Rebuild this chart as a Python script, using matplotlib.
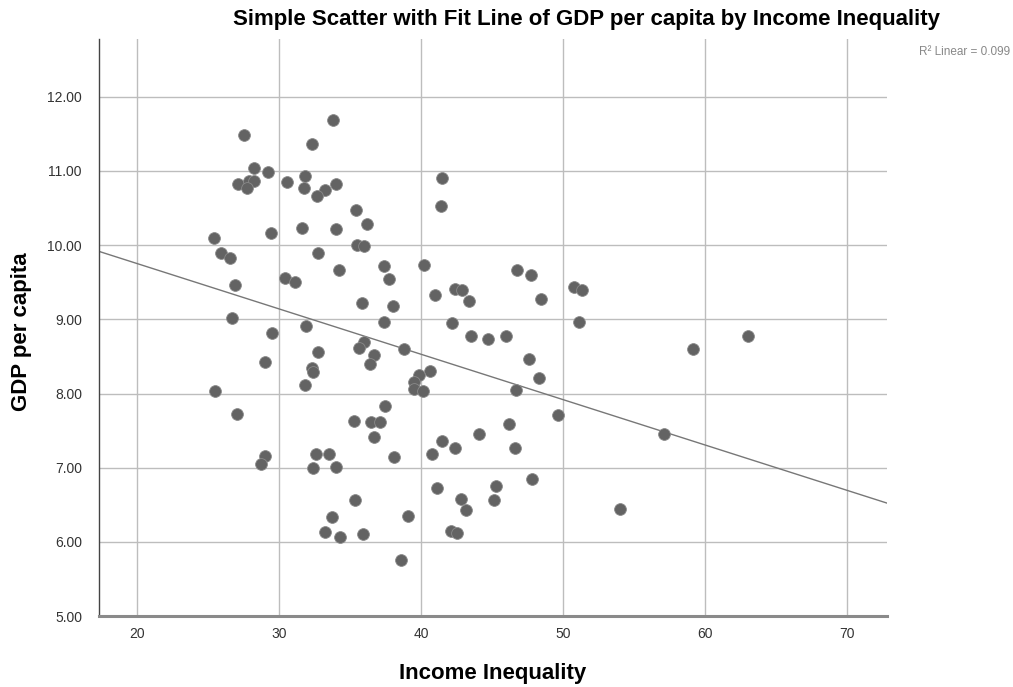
import numpy as np
import matplotlib.pyplot as plt

# Income inequality (x) and GDP per capita (y) per country
income_inequality = [
    33.80, 27.49, 32.30, 28.22, 29.20, 27.11, 27.89, 28.22, 27.70, 30.52,
    31.81, 31.72, 33.22, 32.68, 34.01, 35.40, 36.20, 31.60, 34.01, 29.39,
    25.40, 35.49, 35.96, 25.89, 26.51, 32.73, 34.23, 37.39, 37.70, 40.21,
    26.90, 30.40, 31.11, 40.96, 41.48, 41.36, 35.82, 38.01, 26.69, 37.39,
    31.88, 29.51, 35.99, 35.61, 38.80, 32.70, 36.69, 36.41, 29.01, 32.33,
    32.39, 40.61, 39.82, 39.51, 39.51, 40.14, 31.81, 25.49, 27.00, 37.42,
    35.28, 36.43, 37.11, 36.69, 41.48, 40.77, 38.10, 29.02, 28.69, 32.61,
    33.50, 32.40, 33.99, 41.07, 35.31, 33.71, 39.08, 33.20, 34.30, 35.89,
    38.57, 46.76, 47.70, 42.40, 42.89, 43.38, 48.43, 50.75, 51.30, 42.18,
    51.11, 43.48, 44.70, 45.99, 47.58, 48.31, 46.69, 49.63, 46.20, 44.08,
    42.40, 46.60, 47.82, 45.28, 42.80, 45.10, 43.13, 54.00, 42.07, 42.49,
    59.11, 63.01, 57.10,
]
gdp_per_capita = [
    11.69, 11.48, 11.36, 11.04, 10.99, 10.82, 10.86, 10.86, 10.77, 10.85,
    10.93, 10.77, 10.75, 10.66, 10.83, 10.47, 10.29, 10.23, 10.22, 10.17,
    10.09, 10.00, 9.99, 9.89, 9.83, 9.90, 9.66, 9.72, 9.55, 9.73,
    9.46, 9.56, 9.50, 9.33, 10.90, 10.53, 9.22, 9.18, 9.02, 8.96,
    8.91, 8.81, 8.69, 8.61, 8.60, 8.56, 8.52, 8.40, 8.43, 8.34,
    8.29, 8.30, 8.25, 8.16, 8.06, 8.03, 8.11, 8.04, 7.72, 7.83,
    7.63, 7.61, 7.61, 7.41, 7.36, 7.19, 7.14, 7.16, 7.05, 7.19,
    7.18, 6.99, 7.01, 6.73, 6.56, 6.33, 6.35, 6.13, 6.07, 6.10,
    5.75, 9.66, 9.60, 9.41, 9.40, 9.25, 9.27, 9.44, 9.39, 8.95,
    8.97, 8.78, 8.74, 8.77, 8.46, 8.21, 8.05, 7.71, 7.59, 7.46,
    7.27, 7.27, 6.85, 6.75, 6.58, 6.56, 6.43, 6.44, 6.15, 6.12,
    8.60, 8.78, 7.46,
]
x_ticks = [20, 30, 40, 50, 60, 70]
y_ticks = [5, 6, 7, 8, 9, 10, 11, 12]
r2_label = 0.099

x = np.array(income_inequality)
y = np.array(gdp_per_capita)

# least squares fit line
slope, intercept = np.polyfit(x, y, 1)

plt.rcParams['font.family'] = ['Liberation Sans', 'DejaVu Sans']

fig = plt.figure(figsize=(10.13, 6.87), dpi=100)
ax = fig.add_axes([0.0974, 0.1033, 0.778, 0.840])

xlo, xhi = 17.28, 72.77
ax.set_xlim(xlo, xhi)
ax.set_ylim(5.0, 12.78)

ax.set_xticks(x_ticks)
ax.set_yticks(y_ticks)
ax.set_yticklabels([f'{v:.2f}' for v in y_ticks])
ax.tick_params(length=0, labelsize=10, colors='#333333')
ax.tick_params(axis='y', pad=12)
ax.tick_params(axis='x', pad=8)

ax.grid(True, color='#bdbdbd', linewidth=1.0)
ax.set_axisbelow(True)
for side in ['top', 'right']:
    ax.spines[side].set_visible(False)
ax.spines['left'].set_color('#444444')
ax.spines['left'].set_linewidth(1.0)
ax.spines['bottom'].set_color('#8a8a8a')
ax.spines['bottom'].set_linewidth(2.2)

xs = np.array([xlo, xhi])
ax.plot(xs, intercept + slope * xs, color='#777777', linewidth=1.0, zorder=2)

ax.scatter(x, y, s=72, color='#636363', edgecolors='#8a8a8a', linewidths=0.6, zorder=3)

fig.text(0.579, 0.971, 'Simple Scatter with Fit Line of GDP per capita by Income Inequality',
         ha='center', va='center', fontsize=16, fontweight='bold')
fig.text(0.997, 0.924, f'R\u00b2 Linear = {r2_label:.3f}', ha='right', va='center',
         fontsize=8.5, color='#888888')
ax.set_xlabel('Income Inequality', fontsize=16, fontweight='bold')
ax.set_ylabel('GDP per capita', fontsize=16, fontweight='bold')
ax.xaxis.set_label_coords(0.5, -0.081)
ax.yaxis.set_label_coords(-0.085, 0.492)

fig.savefig('out.png', dpi=100)
